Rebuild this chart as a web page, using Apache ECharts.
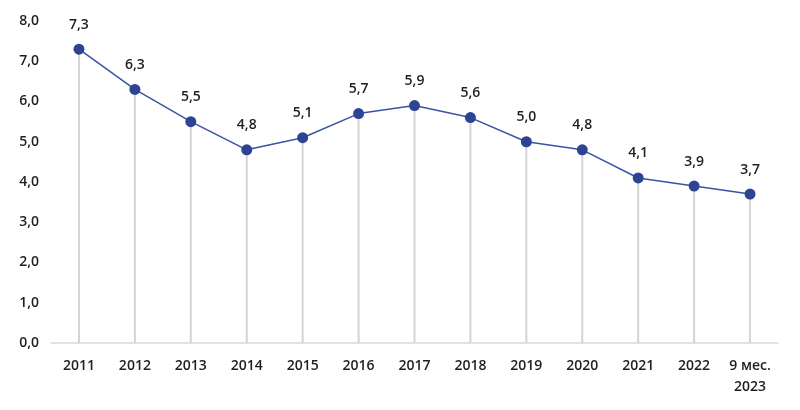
<!DOCTYPE html>
<html><head><meta charset="utf-8">
<script src="https://cdn.jsdelivr.net/npm/echarts@6/dist/echarts.min.js"></script>
<style>html,body{margin:0;padding:0;background:#fff}#c{width:800px;height:410px}</style>
</head><body><div id="c"></div>
<script>
var categories = ['2011','2012','2013','2014','2015','2016','2017','2018','2019','2020','2021','2022','9 мес.\n2023'];
var values = [7.3, 6.3, 5.5, 4.8, 5.1, 5.7, 5.9, 5.6, 5.0, 4.8, 4.1, 3.9, 3.7];
var yTicks = {min: 0, max: 8, interval: 1};
function fmt(v){ return Number(v).toFixed(1).replace('.', ','); }
var txt = {color: '#1f1f1f', fontSize: 14, fontFamily: 'Open Sans', fontWeight: 600};
var chart = echarts.init(document.getElementById('c'));
chart.setOption({
  animation: false,
  grid: {left: 51, right: 22, top: 21, bottom: 67},
  xAxis: {
    type: 'category', data: categories, boundaryGap: true,
    axisLine: {lineStyle: {color: '#d9d9d9', width: 1.5}},
    axisTick: {show: false},
    axisLabel: Object.assign({margin: 13, lineHeight: 21, interval: 0}, txt)
  },
  yAxis: {
    type: 'value', min: yTicks.min, max: yTicks.max, interval: yTicks.interval,
    axisLine: {show: false}, axisTick: {show: false}, splitLine: {show: false},
    axisLabel: Object.assign({margin: 12, formatter: fmt}, txt)
  },
  series: [
    {type: 'bar', data: values, barWidth: 2, itemStyle: {color: '#d4d4d4'}, silent: true, z: 1},
    {type: 'line', data: values, symbol: 'circle', symbolSize: 11,
     lineStyle: {color: '#3a54a4', width: 1.5},
     itemStyle: {color: '#2e4391'},
     label: Object.assign({show: true, position: 'top', distance: 12,
       formatter: function(p){ return fmt(p.value); }}, txt),
     z: 3}
  ]
});
</script></body></html>
